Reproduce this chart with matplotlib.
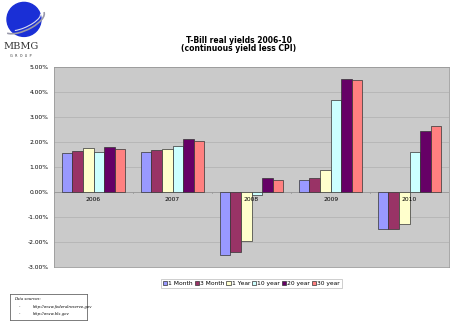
import numpy as np
import matplotlib
matplotlib.use("Agg")
import matplotlib.pyplot as plt
from matplotlib.patches import Circle, Arc

years = ["2006", "2007", "2008", "2009", "2010"]
series = ["1 Month", "3 Month", "1 Year", "10 year", "20 year", "30 year"]
one_month = [1.55, 1.61, -2.52, 0.49, -1.49]
three_month = [1.65, 1.69, -2.40, 0.55, -1.47]
one_year = [1.75, 1.73, -1.97, 0.88, -1.28]
ten_year = [1.60, 1.84, -0.13, 3.67, 1.61]
twenty_year = [1.81, 2.11, 0.56, 4.52, 2.44]
thirty_year = [1.71, 2.04, 0.48, 4.49, 2.65]
colors = ["#9999FF", "#993366", "#FFFFCC", "#CCFFFF", "#660066", "#FF8080"]

values = [one_month, three_month, one_year, ten_year, twenty_year, thirty_year]

fig = plt.figure(figsize=(4.5, 3.22), dpi=100)
ax = fig.add_axes([0.12, 0.171, 0.878, 0.621])
ax.set_facecolor("#CACACA")

x = np.arange(len(years))
w = 0.134
for i, (name, vals) in enumerate(zip(series, values)):
    ax.bar(x + (i - 2.5) * w, vals, w, color=colors[i], edgecolor="#333333",
           linewidth=0.5, label=name, zorder=3)

ax.set_xlim(-0.5, 4.5)
ax.set_ylim(-3, 5)
ax.set_yticks(range(-3, 6))
ax.set_yticklabels(["%.2f%%" % v for v in range(-3, 6)], fontsize=4.3)
ax.yaxis.grid(True, color="#B4B4B4", linewidth=0.6, zorder=0)
ax.tick_params(axis="y", length=0, pad=4)

# category axis at zero, labels just below it
ax.axhline(0, color="#999999", linewidth=0.6, zorder=2)
ax.set_xticks([])
for xi, yr in zip(x, years):
    ax.text(xi, -0.2, yr, ha="center", va="top", fontsize=4.3, zorder=4)
for b in np.arange(-0.5, 5, 1.0):
    ax.plot([b, b], [0, -0.06], color="#999999", linewidth=0.6, zorder=2)

for s in ax.spines.values():
    s.set_color("#999999")
    s.set_linewidth(0.6)

fig.text(0.531, 0.868, "T-Bill real yields 2006-10", ha="center", fontsize=5.5,
         fontweight="bold")
fig.text(0.531, 0.842, "(continuous yield less CPI)", ha="center", fontsize=5.5,
         fontweight="bold")

leg = ax.legend(loc="upper center", bbox_to_anchor=(0.5, -0.045), ncol=6,
                fontsize=4.3, frameon=True, handlelength=0.7, handleheight=0.7,
                handletextpad=0.2, columnspacing=0.3, borderpad=0.3,
                fancybox=False, edgecolor="#AAAAAA")
leg.get_frame().set_linewidth(0.5)

# logo
logo = fig.add_axes([0.0, 0.80, 0.14, 0.20])
logo.set_xlim(0, 63)
logo.set_ylim(0, 64.4)
logo.axis("off")
logo.add_patch(Circle((24, 45), 17, color="#1A2FD6", clip_on=False))
logo.add_patch(Arc((24, 43), 44, 18, angle=25, theta1=190, theta2=360,
                   color="#9999AA", linewidth=1.2, clip_on=False))
logo.add_patch(Arc((24, 43), 36, 12, angle=25, theta1=200, theta2=360,
                   color="#DDDDEE", linewidth=0.8, clip_on=False))
logo.text(21, 15, "MBMG", ha="center", fontsize=7, family="serif",
          color="#333333")
logo.text(21, 7, "G  R  O  U  P", ha="center", fontsize=2.5, color="#333333")

# data sources box
src = fig.add_axes([0.022, 0.006, 0.171, 0.08])
src.set_xticks([])
src.set_yticks([])
for s in src.spines.values():
    s.set_color("#666666")
    s.set_linewidth(0.6)
src.text(0.06, 0.8, "Data sources:", fontsize=2.8, style="italic",
         family="serif", va="center")
src.text(0.12, 0.52, "-", fontsize=2.8, va="center")
src.text(0.3, 0.52, "http://www.federalreserve.gov", fontsize=2.8,
         style="italic", family="serif", va="center")
src.text(0.12, 0.25, "-", fontsize=2.8, va="center")
src.text(0.3, 0.25, "http://www.bls.gov", fontsize=2.8, style="italic",
         family="serif", va="center")

fig.savefig("out.png", dpi=100)
